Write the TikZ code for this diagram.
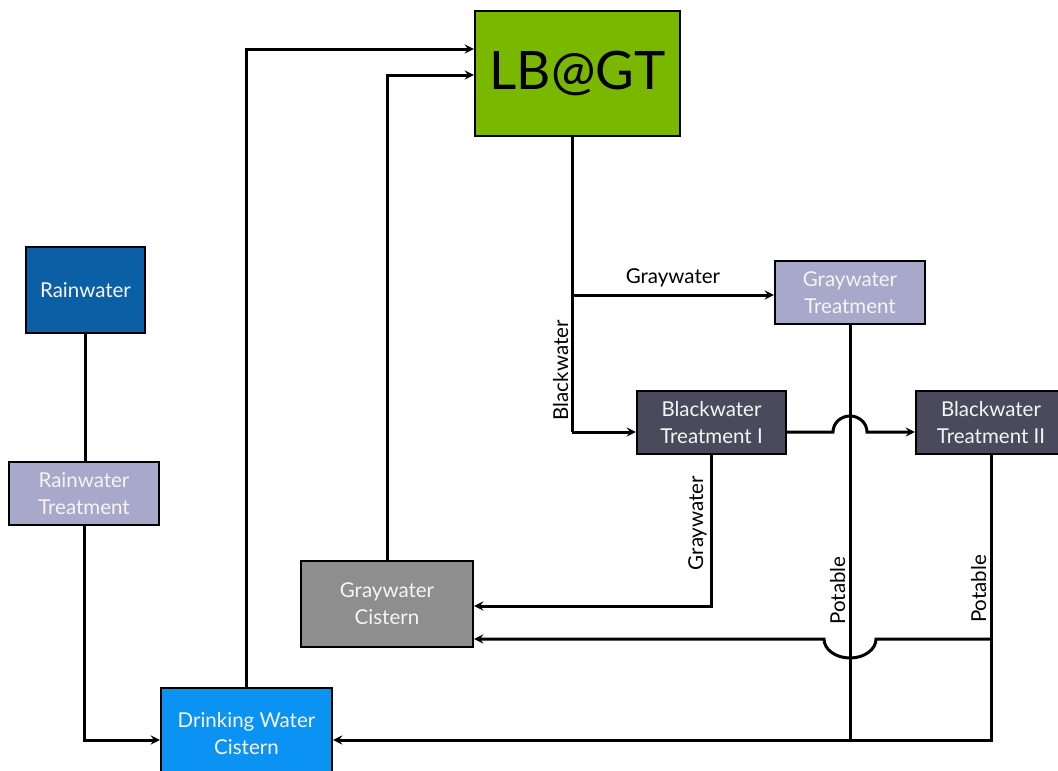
\documentclass[tikz,border=0pt]{standalone}
\usepackage{fontspec}
\setmainfont{Lato}
\usetikzlibrary{positioning}
\definecolor{labgreen}{HTML}{7AB800}
\definecolor{rainblue}{HTML}{0B5FA5}
\definecolor{treatlav}{HTML}{A8A8CB}
\definecolor{drinkblue}{HTML}{0A93F2}
\definecolor{cistgray}{HTML}{8E8E8E}
\definecolor{blackslate}{HTML}{4B4A5C}
\begin{document}
\begin{tikzpicture}[x=1pt, y=-1pt, >=stealth,
    box/.style={draw=black, line width=2.2pt, align=center, text=white!96!black,
        font=\fontsize{20.5}{27}\selectfont, inner sep=0pt},
    pipe/.style={draw=black, line width=3pt},
    lbl/.style={font=\fontsize{20.5}{24}\selectfont, text=black}]
    \useasboundingbox (0,0) rectangle (1058,771);

    \node[box, fill=labgreen, minimum width=205, minimum height=125, text=black,
        font=\fontsize{53}{60}\selectfont] (lbgt) at (577.5,73.5) {LB@GT};
    \node[box, fill=rainblue, minimum width=119, minimum height=86] (rain) at (85.5,290) {Rainwater};
    \node[box, fill=treatlav, minimum width=150, minimum height=63] (rainT) at (84,493.5) {Rainwater\\Treatment};
    \node[box, fill=drinkblue, minimum width=171, minimum height=92] (dwc) at (246.5,734) {Drinking Water\\Cistern};
    \node[box, fill=cistgray, minimum width=172, minimum height=86] (gwc) at (387,604) {Graywater\\Cistern};
    \node[box, fill=treatlav, minimum width=150, minimum height=63] (gwT) at (850,292.5) {Graywater\\Treatment};
    \node[box, fill=blackslate, minimum width=149, minimum height=63] (bwT1) at (711.5,422.5) {Blackwater\\Treatment I};
    \node[box, fill=blackslate, minimum width=150, minimum height=63] (bwT2) at (991,422.5) {Blackwater\\Treatment II};

    % junctions of the pipes
    \coordinate (jgw) at (572,295);
    \coordinate (jbw) at (572,432);
    \coordinate (up1) at (0,49);
    \coordinate (up2) at (0,75);
    \coordinate (gwin) at (0,606);
    \coordinate (pot) at (0,639);
    \coordinate (bot) at (0,740);

    % out of the building
    \draw[pipe] (lbgt.south -| jgw) -- (jgw) -- node[lbl, pos=0.55, rotate=90, anchor=south, yshift=-1] {Blackwater} (jbw);
    \draw[pipe, ->] (jgw) -- node[lbl, above, yshift=3] {Graywater} (gwT.west |- jgw);
    \draw[pipe, ->] (jbw) -- (bwT1.west |- jbw);

    % treatment train, hop over the potable line
    \draw[pipe, ->] (bwT1.east |- jbw) -- ([xshift=-17pt]gwT.south |- jbw)
        arc[start angle=180, end angle=360, x radius=17, y radius=16]
        -- (bwT2.west |- jbw);
    \draw[pipe, ->] (bwT1.south) -- node[lbl, pos=0.45, rotate=90, anchor=south] {Graywater} (bwT1.south |- gwin) -- (gwc.east |- gwin);

    % potable water back to the cisterns
    \draw[pipe] (gwT.south) -- node[lbl, pos=0.64, rotate=90, anchor=south] {Potable} (gwT.south |- bot);
    \draw[pipe, ->] (bwT2.south) -- node[lbl, pos=0.47, rotate=90, anchor=south] {Potable} (bwT2.south |- bot) -- (dwc.east |- bot);
    \draw[pipe, ->] (bwT2.south |- pot) -- ([xshift=26pt]gwT.south |- pot)
        arc[start angle=0, end angle=180, x radius=26, y radius=19]
        -- (gwc.east |- pot);

    % supply to the building
    \draw[pipe, ->] (gwc.north) -- (gwc.north |- up2) -- (lbgt.west |- up2);
    \draw[pipe, ->] (dwc.north) -- (dwc.north |- up1) -- (lbgt.west |- up1);

    % rainwater
    \draw[pipe] (rain.south) -- (rain.south |- rainT.north);
    \draw[pipe, ->] (rainT.south) -- (rainT.south |- bot) -- (dwc.west |- bot);
\end{tikzpicture}
\end{document}
